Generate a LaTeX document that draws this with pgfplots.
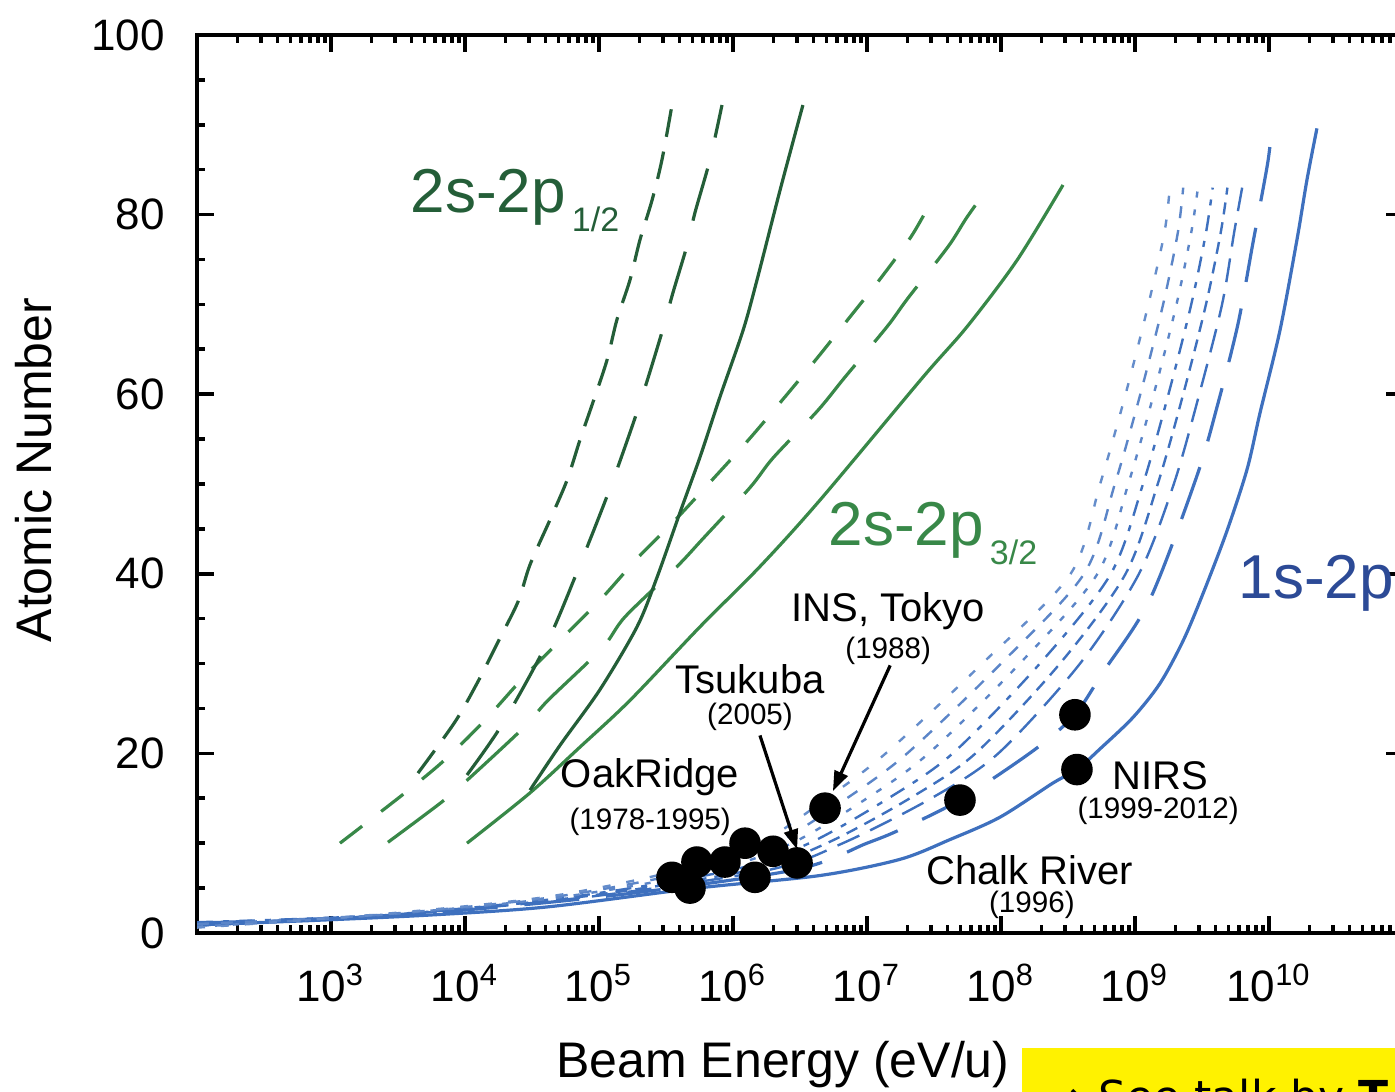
\documentclass[border=0pt]{standalone}
\usepackage{fontspec}
\setmainfont{Liberation Sans}
\newfontfamily\dejavu{DejaVu Sans}
\usepackage{pgfplots}
\pgfplotsset{compat=1.18}
\usetikzlibrary{arrows.meta}

\definecolor{gdark}{RGB}{36,94,56}
\definecolor{glight}{RGB}{56,136,72}
\definecolor{bline}{RGB}{62,112,190}
\definecolor{blabel}{RGB}{44,74,150}

\pgfplotsset{
  lg/.style={table/x expr=10^\thisrow{lx}, table/y=z},
  cv/.style={lg, smooth, tension=0.5},
}

\begin{document}
\begin{tikzpicture}
\begin{axis}[
  name=ax,
  scale only axis,
  width=301.5pt, height=224.5pt,
  xmode=log, log basis x=10,
  xmin=1e2, xmax=1e11, ymin=0, ymax=100,
  xtick={1e2,1e3,1e4,1e5,1e6,1e7,1e8,1e9,1e10,1e11},
  xticklabels={,10\textsuperscript{3},10\textsuperscript{4},10\textsuperscript{5},10\textsuperscript{6},10\textsuperscript{7},10\textsuperscript{8},10\textsuperscript{9},10\textsuperscript{10},},
  minor xtick={2e2,3e2,4e2,5e2,6e2,7e2,8e2,9e2,
    2e3,3e3,4e3,5e3,6e3,7e3,8e3,9e3,
    2e4,3e4,4e4,5e4,6e4,7e4,8e4,9e4,
    2e5,3e5,4e5,5e5,6e5,7e5,8e5,9e5,
    2e6,3e6,4e6,5e6,6e6,7e6,8e6,9e6,
    2e7,3e7,4e7,5e7,6e7,7e7,8e7,9e7,
    2e8,3e8,4e8,5e8,6e8,7e8,8e8,9e8,
    2e9,3e9,4e9,5e9,6e9,7e9,8e9,9e9,
    2e10,3e10,4e10,5e10,6e10,7e10,8e10,9e10},
  ytick={0,20,40,60,80,100},
  minor ytick={5,10,15,25,30,35,45,50,55,65,70,75,85,90,95},
  /pgf/number format/assume math mode=true,
  tick label style={font=\fontsize{11}{13}\selectfont},
  xticklabel style={yshift=-4.3pt},
  yticklabel style={xshift=-4.5pt},
  axis line style={line width=1pt},
  every tick/.style={black, line width=0.9pt},
  major tick length=4.3pt, minor tick length=2pt,
  clip=true,
]

% ---- 1s-2p (blue) ----
\addplot[bline, line width=0.8pt, cv] table {
lx z
2.0 0.9
2.873 1.4
3.739 2.0
4.612 2.9
5.731 5.0
6.649 6.4
7.246 8.2
7.619 10.4
7.993 12.9
8.388 16.7
8.567 18.2
8.739 20.5
8.985 24.0
9.187 27.8
9.358 32.5
9.500 37.5
9.680 44.5
9.836 51.6
9.933 57.9
10.082 67.1
10.209 77.2
10.284 83.9
10.358 89.6
};
\addplot[bline, line width=0.8pt, dash pattern=on 13.75pt off 6.75pt, cv] table {
lx z
2.0 1.1
3.5 2.0
5.0 4.0
6.45 7.0
7.0 10.0
7.246 11.5
7.69 14.8
8.25 20.4
8.55 24.3
8.76 29.0
9.11 37.1
9.46 50.8
9.62 59.0
9.77 67.9
9.88 76.8
9.99 85.7
10.02 89.6
};
\addplot[bline, line width=0.6pt, dash pattern=on 6pt off 3pt, cv] table {
lx z
2.0 1.0
3.46 2
4.91 4
6.26 7
6.82 10
7.48 15
7.98 20
8.59 30
9.03 40
9.29 50
9.48 60
9.65 70
9.74 78
9.80 83
};
\addplot[bline, line width=0.6pt, dash pattern=on 3pt off 2pt, cv] table {
lx z
2.0 0.8
3.42 2
4.85 4
6.13 7
6.70 10
7.32 15
7.81 20
8.44 30
8.93 40
9.17 50
9.36 60
9.53 70
9.64 78
9.69 83
};
\addplot[bline, line width=0.6pt, dash pattern=on 4pt off 2.5pt on 1.5pt off 2.5pt, cv] table {
lx z
2.0 1.2
3.39 2
4.78 4
5.99 7
6.57 10
7.16 15
7.64 20
8.29 30
8.82 40
9.06 50
9.25 60
9.42 70
9.53 78
9.58 83
};
\addplot[bline!85, line width=0.6pt, dash pattern=on 1.5pt off 3pt, cv] table {
lx z
2.0 0.7
3.36 2
4.72 4
5.86 7
6.44 10
7.0 15
7.46 20
8.14 30
8.72 40
8.95 50
9.14 60
9.31 70
9.42 78
9.47 83
};
\addplot[bline!85, line width=0.6pt, dash pattern=on 3pt off 3pt, cv] table {
lx z
2.0 1.0
3.33 2
4.66 4
5.73 7
6.32 10
6.85 15
7.30 20
8.0 30
8.62 40
8.85 50
9.04 60
9.21 70
9.32 78
9.36 83
};
\addplot[bline!80, line width=0.6pt, dash pattern=on 2pt off 4pt, cv] table {
lx z
2.0 0.6
3.3 2
4.6 4
5.6 7
6.2 10
6.7 15
7.14 20
7.86 30
8.52 40
8.74 50
8.93 60
9.10 70
9.22 78
9.26 83
};

% ---- 2s-2p 3/2 (light green) ----
\addplot[glight, line width=0.8pt, dash pattern=on 7pt off 6pt, cv] table {
lx z
3.067 10.0
3.552 15.6
3.851 19.3
4.149 23.7
4.433 28.4
4.731 32.9
5.022 37.3
5.291 41.8
5.582 46.2
5.866 50.8
6.127 55.1
6.388 59.7
6.627 64.0
6.873 68.6
7.112 73.1
7.336 77.7
7.507 82.2
};
\addplot[glight, line width=0.8pt, dash pattern=on 17.5pt off 7.5pt, cv] table {
lx z
3.425 10.1
3.828 14.6
4.015 17.0
4.433 22.8
4.619 25.9
5.022 31.7
5.194 35.2
5.582 40.8
5.769 43.8
6.127 49.6
6.299 52.9
6.634 58.2
6.836 61.9
7.149 67.5
7.306 70.7
7.604 76.4
7.746 79.7
7.918 83.3
};
\addplot[glight, line width=0.8pt, cv] table {
lx z
4.015 10.0
4.485 15.6
4.858 20.7
5.231 25.9
5.754 34.1
6.201 40.8
6.649 48.2
7.418 61.9
7.746 67.5
8.119 74.9
8.463 83.3
};

% ---- 2s-2p 1/2 (dark green) ----
\addplot[gdark, line width=0.8pt, dash pattern=on 7pt off 3.75pt, cv] table {
lx z
3.649 17.8
3.925 23.5
4.097 28.0
4.246 32.4
4.396 36.9
4.485 41.0
4.634 46.0
4.761 50.4
4.858 54.9
4.955 59.1
5.060 63.8
5.134 68.3
5.231 72.7
5.306 77.2
5.396 81.6
5.470 86.1
5.545 92.2
};
\addplot[gdark, line width=0.8pt, dash pattern=on 13.5pt off 8pt, cv] table {
lx z
4.015 17.6
4.276 23.2
4.612 32.3
4.858 41.0
5.097 50.1
5.306 59.0
5.470 66.9
5.552 71.3
5.664 76.9
5.716 80.2
5.828 86.1
5.918 92.2
};
\addplot[gdark, line width=0.8pt, cv] table {
lx z
4.485 15.9
4.709 20.9
5.007 27.1
5.284 34.1
5.433 39.6
5.604 46.8
5.754 53.0
5.903 59.7
6.075 67.1
6.179 72.7
6.351 82.7
6.522 92.2
};

% ---- experiments ----
\addplot[only marks, mark=*, mark size=3.75pt, black, lg] table {
lx z
5.545 6.2
5.679 5.0
5.731 7.9
5.940 7.9
6.090 10.0
6.164 6.2
6.299 9.1
6.478 7.8
6.687 13.9
7.694 14.8
8.552 24.3
8.567 18.2
};

\draw[-{Triangle[length=5pt,width=3.5pt]}, line width=0.8pt] (axis cs:1.59e6,22.0) -- (axis cs:3.01e6,9.3);
\draw[-{Triangle[length=5pt,width=3.5pt]}, line width=0.8pt] (axis cs:1.49e7,29.8) -- (axis cs:5.57e6,15.8);

\begin{scope}[every node/.style={inner sep=1pt}]
\node[font=\fontsize{10}{12}\selectfont] at (axis cs:2.40e5,17.4) {OakRidge};
\node[font=\fontsize{7.4}{9}\selectfont] at (axis cs:2.41e5,12.4) {(1978-1995)};
\node[font=\fontsize{10}{12}\selectfont] at (axis cs:1.34e6,28.3) {Tsukuba};
\node[font=\fontsize{7.4}{9}\selectfont] at (axis cs:1.34e6,24.1) {(2005)};
\node[font=\fontsize{10}{12}\selectfont] at (axis cs:1.44e7,35.8) {INS, Tokyo};
\node[font=\fontsize{7.4}{9}\selectfont] at (axis cs:1.44e7,31.4) {(1988)};
\node[font=\fontsize{10}{12}\selectfont] at (axis cs:1.54e9,17.5) {NIRS};
\node[font=\fontsize{7.4}{9}\selectfont] at (axis cs:1.49e9,13.6) {(1999-2012)};
\node[font=\fontsize{10}{12}\selectfont] at (axis cs:1.64e8,7.0) {Chalk River};
\node[font=\fontsize{7.4}{9}\selectfont] at (axis cs:1.70e8,3.1) {(1996)};
\end{scope}

\node[anchor=base west, inner sep=0pt, text=gdark, font=\fontsize{15.5}{17}\selectfont]
  at (axis cs:3890,80.2) {2s-2p\kern1.5pt\raisebox{-4.75pt}{\fontsize{8.5}{9}\selectfont 1/2}};
\node[anchor=base west, inner sep=0pt, text=glight, font=\fontsize{15.5}{17}\selectfont]
  at (axis cs:5.12e6,43.2) {2s-2p\kern1.5pt\raisebox{-4.75pt}{\fontsize{8.5}{9}\selectfont 3/2}};
\node[anchor=base west, inner sep=0pt, text=blabel, font=\fontsize{15.5}{17}\selectfont]
  at (axis cs:5.87e9,37.3) {1s-2p};
\end{axis}

\node[rotate=90, font=\fontsize{12.5}{14}\selectfont] at ([xshift=-40.75pt, yshift=115.75pt]ax.south west) {Atomic Number};
\node[anchor=base, font=\fontsize{12.5}{14}\selectfont] at ([xshift=146.5pt, yshift=-36.25pt]ax.south west) {Beam Energy (eV/u)};

\fill[yellow] ([xshift=206.25pt, yshift=-28.75pt]ax.south west) rectangle ([xshift=310pt, yshift=-45pt]ax.south west);
\node[anchor=base west, inner sep=0pt, font=\dejavu\fontsize{11}{13}\selectfont] at ([xshift=212.5pt, yshift=-45pt]ax.south west) {→ See talk by \textbf{T}};

\pgfresetboundingbox
\path[use as bounding box] ([xshift=-49.25pt, yshift=-39.75pt]ax.south west) rectangle ([xshift=299.5pt, yshift=233.25pt]ax.south west);
\end{tikzpicture}
\end{document}
